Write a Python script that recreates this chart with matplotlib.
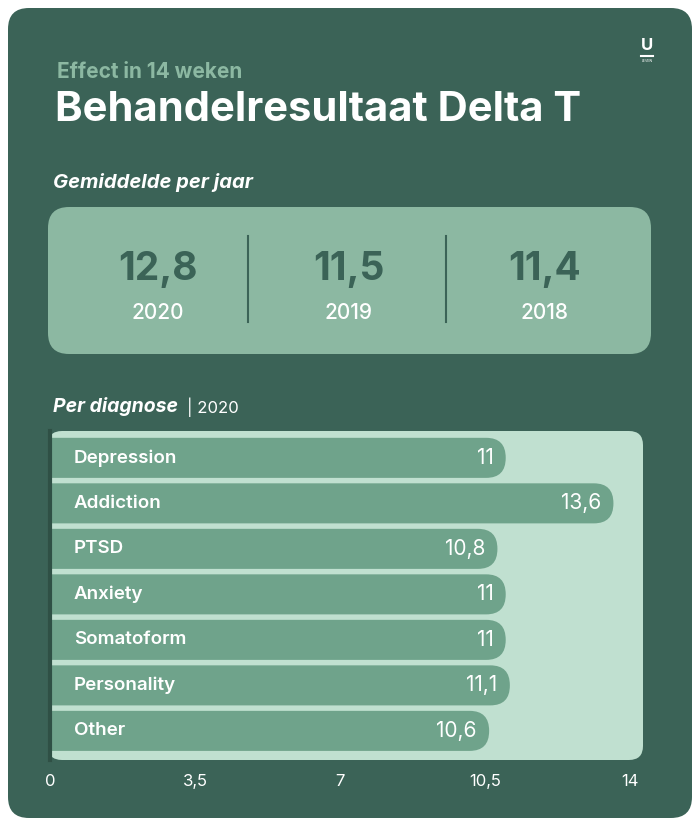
import matplotlib
matplotlib.use("Agg")
import matplotlib.pyplot as plt
from matplotlib.patches import FancyBboxPatch

categories = ["Depression", "Addiction", "PTSD", "Anxiety", "Somatoform", "Personality", "Other"]
values = [11, 13.6, 10.8, 11, 11, 11.1, 10.6]
value_labels = ["11", "13,6", "10,8", "11", "11", "11,1", "10,6"]
years = ["2020", "2019", "2018"]
year_avgs = ["12,8", "11,5", "11,4"]
xticks = [0, 3.5, 7, 10.5, 14]
xtick_labels = ["0", "3,5", "7", "10,5", "14"]

W, H = 700, 827
CARD = "#3b6357"
BAR = "#6fa38b"
PANEL = "#c0e0d0"
STAT = "#8cb8a2"
FONT = "Inter"

fig = plt.figure(figsize=(7, 8.27), dpi=100)
fig.patch.set_facecolor("white")

def fx(px): return px / W
def fy(py): return 1 - py / H

# card
fig.patches.append(FancyBboxPatch((fx(8), fy(818)), fx(684), 810 / H,
    boxstyle="round,pad=0,rounding_size=0.03", transform=fig.transFigure,
    facecolor=CARD, edgecolor="none", mutation_aspect=W / H))

fig.text(fx(57), fy(72), "Effect in 14 weken", color=STAT, fontsize=15, fontweight="bold",
         family=FONT, va="center")
fig.text(fx(55), fy(110), "Behandelresultaat Delta T", color="white", fontsize=30,
         fontweight="bold", family=FONT, va="center")
fig.text(fx(647), fy(46), "U", color="white", fontsize=12, fontweight="bold", family=FONT,
         ha="center", va="center")
fig.lines.append(plt.Line2D([fx(641), fx(653)], [fy(56), fy(56)], color="white", lw=1.5,
                            transform=fig.transFigure))
fig.text(fx(647), fy(61), "LEVEN", color="white", fontsize=2.5, family=FONT, ha="center", va="center")

fig.text(fx(53), fy(182), "Gemiddelde per jaar", color="white", fontsize=14.5,
         fontweight="bold", style="italic", family=FONT, va="center")

# stat box
fig.patches.append(FancyBboxPatch((fx(48), fy(354)), fx(603), 147 / H,
    boxstyle="round,pad=0,rounding_size=0.03", transform=fig.transFigure,
    facecolor=STAT, edgecolor="none", mutation_aspect=W / H))
centers = [158, 349, 545]
for c, v, y in zip(centers, year_avgs, years):
    fig.text(fx(c), fy(270), v, color=CARD, fontsize=28, fontweight="bold", family=FONT,
             ha="center", va="center")
    fig.text(fx(c), fy(313), y, color="white", fontsize=15, fontweight="medium", family=FONT,
             ha="center", va="center")
for dx in [248, 446]:
    fig.lines.append(plt.Line2D([fx(dx), fx(dx)], [fy(236), fy(322)], color=CARD, lw=1.5,
                                transform=fig.transFigure))

fig.text(fx(53), fy(407), "Per diagnose", color="white", fontsize=14,
         fontweight="bold", style="italic", family=FONT, va="center")
fig.text(fx(187), fy(407), "| 2020", color="white", fontsize=12, family=FONT, va="center")

# bar panel
fig.patches.append(FancyBboxPatch((fx(48), fy(760)), fx(595), 329 / H,
    boxstyle="round,pad=0,rounding_size=0.02", transform=fig.transFigure,
    facecolor=PANEL, edgecolor="none", mutation_aspect=W / H))

ax = fig.add_axes([fx(50), fy(760), fx(580), 329 / H])
ax.set_zorder(5)
ax.set_facecolor("none")
ax.set_xlim(0, 14)
ax.set_ylim(6.64, -0.59)
for i, (cat, v, lab) in enumerate(zip(categories, values, value_labels)):
    p = FancyBboxPatch((-1, i - 0.44), v + 1, 0.88,
                       boxstyle="round,pad=0,rounding_size=0.47", mutation_aspect=0.93,
                       facecolor=BAR, edgecolor="none")
    ax.add_patch(p)
    ax.text(0.58, i, cat, color="white", fontsize=13.5, fontweight="semibold", family=FONT,
            va="center", ha="left")
    ax.text(v - 0.3, i, lab, color="white", fontsize=15, family=FONT, va="center", ha="right")

for s in ["top", "right", "bottom"]:
    ax.spines[s].set_visible(False)
ax.spines["left"].set_color("#2f5045")
ax.spines["left"].set_linewidth(3)
ax.set_yticks([])
ax.set_xticks(xticks)
ax.set_xticklabels(xtick_labels, color="white", fontsize=12, family=FONT)
ax.tick_params(axis="x", length=0, pad=10)

fig.savefig("out.png", dpi=100, facecolor="white")
